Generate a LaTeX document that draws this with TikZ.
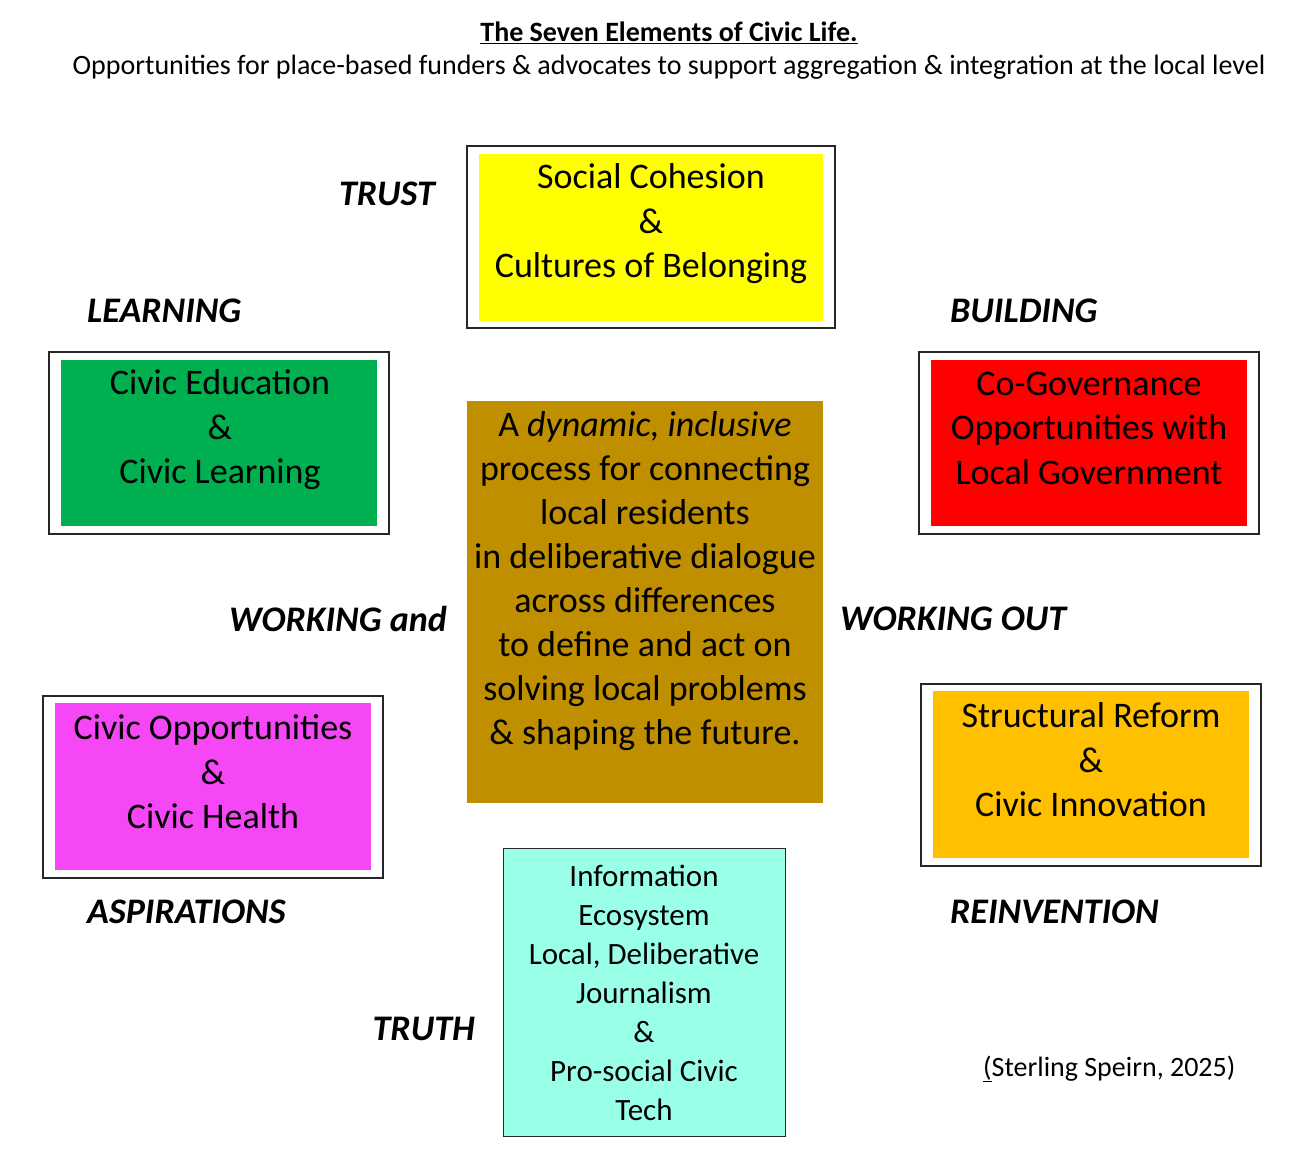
\documentclass[tikz,border=0pt]{standalone}
\usepackage{fontspec}
\setmainfont{Carlito}
\definecolor{cyel}{HTML}{FFFF00}
\definecolor{cgrn}{HTML}{00B050}
\definecolor{cred}{HTML}{FF0000}
\definecolor{cmag}{HTML}{F547F5}
\definecolor{corg}{HTML}{FFC000}
\definecolor{cbrn}{HTML}{BF8F00}
\definecolor{ccyn}{HTML}{99FFE8}
\begin{document}
\begin{tikzpicture}[x=1pt,y=-1pt,
  frame/.style={draw=black!85,line width=1.3pt,fill=white,inner sep=0pt},
  fillbox/.style={draw=none,inner sep=0pt},
  btxt/.style={inner sep=0pt,align=center,font=\fontsize{36}{44.5}\selectfont},
  ctxt/.style={inner sep=0pt,align=center,font=\fontsize{36}{44}\selectfont},
  itxt/.style={inner sep=0pt,align=center,font=\fontsize{31}{39}\selectfont},
  lab/.style={inner sep=0pt,font=\fontsize{36}{44}\selectfont\bfseries\itshape}]
\useasboundingbox[fill=white] (0,0) rectangle (1302,1164);
% title
\node[inner sep=0pt,font=\fontsize{28}{32}\selectfont] (title) at (669,33) {\underline{\textbf{The Seven Elements of Civic Life.}}};
\node[inner sep=0pt,font=\fontsize{28}{32}\selectfont] (sub) at (669,67) {Opportunities for place-based funders \& advocates to support aggregation \& integration at the local level};
% yellow
\node[frame,minimum width=368,minimum height=182] (socf) at (651,237) {};
\node[fillbox,fill=cyel,minimum width=344,minimum height=167] (soc) at (651,237.5) {};
\node[btxt] (soct) at (651,224) {Social Cohesion\\\&\\Cultures of Belonging};
% green
\node[frame,minimum width=340,minimum height=182] (eduf) at (219,443) {};
\node[fillbox,fill=cgrn,minimum width=316,minimum height=166] (edu) at (219,443) {};
\node[btxt] (edut) at (220,430) {Civic Education\\\&\\Civic Learning};
% red
\node[frame,minimum width=340,minimum height=182] (govf) at (1089,443) {};
\node[fillbox,fill=cred,minimum width=316,minimum height=166] (gov) at (1089,443) {};
\node[btxt] (govt) at (1089,428) {Co-Governance\\Opportunities with\\Local Government};
% magenta
\node[frame,minimum width=340,minimum height=182] (oppf) at (213,787) {};
\node[fillbox,fill=cmag,minimum width=316,minimum height=167] (opp) at (213,786.5) {};
\node[btxt] (oppt) at (213,772) {Civic Opportunities\\\&\\Civic Health};
% orange
\node[frame,minimum width=340,minimum height=182] (strf) at (1091,775) {};
\node[fillbox,fill=corg,minimum width=316,minimum height=167] (str) at (1091,774.5) {};
\node[btxt] (strt) at (1091,760) {Structural Reform\\\&\\Civic Innovation};
% center
\node[fillbox,fill=cbrn,minimum width=356,minimum height=402] (cen) at (645,602) {};
\node[ctxt] (cent) at (645,581) {A \textit{dynamic, inclusive}\\process for connecting\\local residents\\in deliberative dialogue\\across differences\\to define and act on\\solving local problems\\\& shaping the future.};
% cyan
\node[draw=black!85,line width=1pt,fill=ccyn,inner sep=0pt,minimum width=282,minimum height=288] (inf) at (644,992) {};
\node[itxt] (inft) at (644,993) {Information\\Ecosystem\\Local, Deliberative\\Journalism\\\&\\Pro-social Civic\\Tech};
% labels
\node[lab] (trust) at (387,194) {TRUST};
\node[lab,anchor=west] (learn) at (87,311) {LEARNING};
\node[lab,anchor=west] (build) at (950,311) {BUILDING};
\node[lab,anchor=east] (work) at (447,619) {WORKING and};
\node[lab,anchor=west] (workout) at (840,619) {WORKING OUT};
\node[lab,anchor=west] (asp) at (87,912) {ASPIRATIONS};
\node[lab,anchor=west] (rein) at (950,912) {REINVENTION};
\node[lab,anchor=east] (truth) at (475,1029) {TRUTH};
% citation
\node[inner sep=0pt,anchor=west,font=\fontsize{28}{32}\selectfont] (cite) at (983,1069) {\underline{(}Sterling Speirn, 2025)};
\end{tikzpicture}
\end{document}
